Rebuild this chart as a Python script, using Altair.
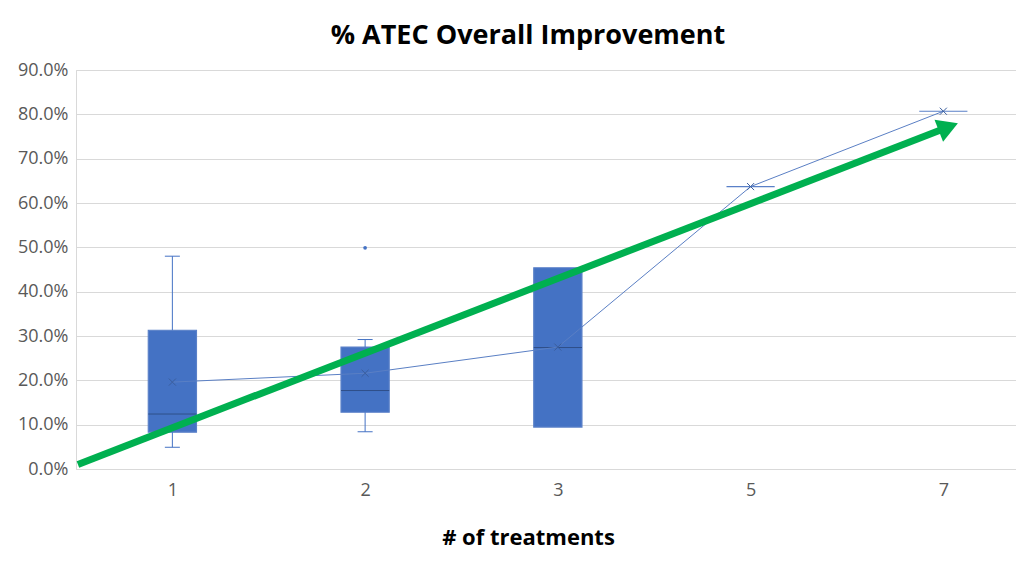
import altair as alt
import pandas as pd

# ---- data ----
categories = ["1", "2", "3", "5", "7"]
q1 = [0.083, 0.128, 0.0945, 0.637, 0.807]
median = [0.124, 0.177, 0.274, 0.637, 0.807]
q3 = [0.313, 0.275, 0.454, 0.637, 0.807]
mean = [0.196, 0.216, 0.275, 0.637, 0.807]
whisker_cats = ["1", "2"]
whisker_low = [0.049, 0.084]
whisker_high = [0.480, 0.292]
outlier_cats = ["2"]
outlier_vals = [0.499]
y_ticks = [0.0, 0.1, 0.2, 0.3, 0.4, 0.5, 0.6, 0.7, 0.8, 0.9]
# trend arrow (x in category-position units, y as fraction)
arrow_x = [-0.49, 4.026]
arrow_y = [0.0104, 0.7715]

idx = {c: i for i, c in enumerate(categories)}
box_df = pd.DataFrame({"cat": categories, "pos": list(range(len(categories))),
                       "q1": q1, "median": median, "q3": q3, "mean": mean})
wh_df = pd.DataFrame({"cat": whisker_cats, "pos": [idx[c] for c in whisker_cats],
                      "q1": [q1[idx[c]] for c in whisker_cats],
                      "q3": [q3[idx[c]] for c in whisker_cats],
                      "lo": whisker_low, "hi": whisker_high})
out_df = pd.DataFrame({"pos": [idx[c] for c in outlier_cats], "v": outlier_vals})
arrow_df = pd.DataFrame({"x": arrow_x, "y": arrow_y})
head_df = arrow_df.tail(1)

BOX_HALF = 0.125
CAP_HALF = 0.039
BLUE = "#4472C4"

label_expr = "[" + ",".join(f"'{c}'" for c in categories) + "][datum.value]"

xs = alt.Scale(domain=[-0.5, 4.377], nice=False, zero=False)
ys = alt.Scale(domain=[0, 0.9], nice=False, zero=True)

x_axis = alt.Axis(values=list(range(len(categories))), labelExpr=label_expr,
                  grid=False, ticks=False, domainColor="#D9D9D9", labelPadding=12,
                  labelFontSize=18, labelColor="#595959", labelFont="Open Sans",
                  title="# of treatments", titleFontSize=22, titleFont="Open Sans",
                  titleFontWeight="bold", titleColor="black", titlePadding=28, titleX=452)
y_axis = alt.Axis(values=y_ticks, format=".1%", ticks=False, domainColor="#D9D9D9",
                  gridColor="#D9D9D9", labelFontSize=18, labelColor="#595959",
                  labelFont="Open Sans", labelPadding=8, title=None)

base = alt.Chart(box_df)

boxes = base.transform_calculate(
    x1=f"datum.pos - {BOX_HALF}", x2=f"datum.pos + {BOX_HALF}"
).mark_rect(fill=BLUE, stroke="#5A80C8", strokeWidth=1.2).encode(
    x=alt.X("x1:Q", scale=xs, axis=x_axis),
    x2="x2:Q",
    y=alt.Y("q1:Q", scale=ys, axis=y_axis),
    y2="q3:Q",
)

medians = base.transform_filter("datum.q3 > datum.q1").transform_calculate(
    x1=f"datum.pos - {BOX_HALF}", x2=f"datum.pos + {BOX_HALF}"
).mark_rule(color="#2F4F8A", strokeWidth=1).encode(
    x=alt.X("x1:Q", scale=xs), x2="x2:Q", y=alt.Y("median:Q", scale=ys)
)

wh = alt.Chart(wh_df)
whisk_up = wh.mark_rule(color=BLUE, strokeWidth=1).encode(
    x=alt.X("pos:Q", scale=xs), y=alt.Y("q3:Q", scale=ys), y2="hi:Q")
whisk_dn = wh.mark_rule(color=BLUE, strokeWidth=1).encode(
    x=alt.X("pos:Q", scale=xs), y=alt.Y("lo:Q", scale=ys), y2="q1:Q")
caps_hi = wh.transform_calculate(
    x1=f"datum.pos - {CAP_HALF}", x2=f"datum.pos + {CAP_HALF}"
).mark_rule(color=BLUE, strokeWidth=1).encode(
    x=alt.X("x1:Q", scale=xs), x2="x2:Q", y=alt.Y("hi:Q", scale=ys))
caps_lo = wh.transform_calculate(
    x1=f"datum.pos - {CAP_HALF}", x2=f"datum.pos + {CAP_HALF}"
).mark_rule(color=BLUE, strokeWidth=1).encode(
    x=alt.X("x1:Q", scale=xs), x2="x2:Q", y=alt.Y("lo:Q", scale=ys))

outliers = alt.Chart(out_df).mark_point(filled=True, color=BLUE, size=14, opacity=1).encode(
    x=alt.X("pos:Q", scale=xs), y=alt.Y("v:Q", scale=ys))

mean_line = base.mark_line(color="#5A7FC4", strokeWidth=1).encode(
    x=alt.X("pos:Q", scale=xs), y=alt.Y("mean:Q", scale=ys))
mean_pts = base.mark_point(shape="M-1,-1L1,1M-1,1L1,-1", size=50, color="#3A5E9E",
                           strokeWidth=1, filled=False, opacity=1).encode(
    x=alt.X("pos:Q", scale=xs), y=alt.Y("mean:Q", scale=ys))

arrow_line = alt.Chart(arrow_df).mark_line(color="#00B050", strokeWidth=7).encode(
    x=alt.X("x:Q", scale=xs), y=alt.Y("y:Q", scale=ys))
arrow_head = alt.Chart(head_df).mark_point(shape="triangle-right", filled=True,
                                           color="#00B050", size=560, angle=338.8,
                                           opacity=1).encode(
    x=alt.X("x:Q", scale=xs), y=alt.Y("y:Q", scale=ys))

chart = alt.layer(
    boxes, medians, whisk_up, whisk_dn, caps_hi, caps_lo, outliers,
    mean_line, mean_pts, arrow_line, arrow_head
).properties(
    width=940, height=399,
    padding={"left": 68, "top": 62, "right": 0, "bottom": 90},
    autosize=alt.AutoSizeParams(type="none"),
    title=alt.TitleParams(text="% ATEC Overall Improvement", fontSize=27,
                          font="Open Sans", fontWeight="bold", color="black",
                          frame="group", dx=-18, offset=11),
).configure_view(stroke=None).configure(background="white")

chart.save("out.html", embed_options={"renderer": "svg", "actions": False})
